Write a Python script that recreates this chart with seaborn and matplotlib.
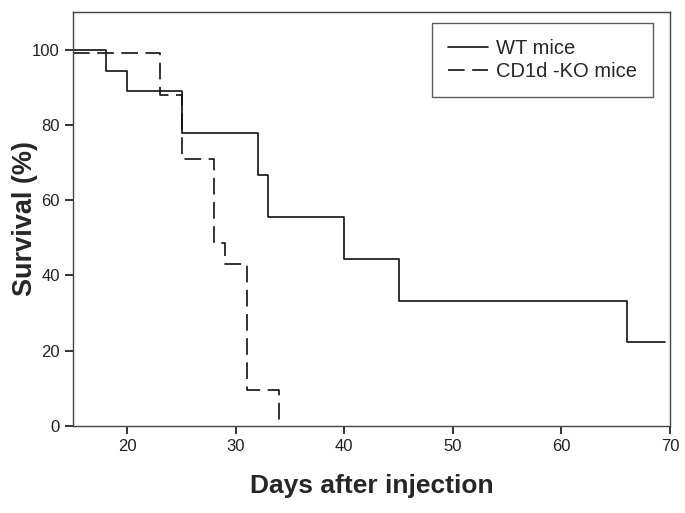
import pandas as pd
import matplotlib
matplotlib.use('Agg')
import matplotlib.pyplot as plt
import seaborn as sns

# Kaplan-Meier step points (day, survival %)
wt_days = [15, 18, 20, 25, 32, 33, 40, 45, 66, 69.5]
wt_surv = [100, 94.4, 88.9, 77.8, 66.7, 55.6, 44.4, 33.3, 22.2, 22.2]
ko_days = [15, 23, 25, 28, 29, 31, 34]
ko_surv = [99, 88, 71, 48.5, 43, 9.5, 0]
groups = ['WT mice', 'CD1d -KO mice']
x_ticks = [20, 30, 40, 50, 60, 70]
y_ticks = [0, 20, 40, 60, 80, 100]


def main():
    df = pd.concat([
        pd.DataFrame({'day': wt_days, 'surv': wt_surv, 'group': groups[0]}),
        pd.DataFrame({'day': ko_days, 'surv': ko_surv, 'group': groups[1]}),
    ])

    sns.set_style('ticks')
    plt.rcParams['font.family'] = ['Liberation Sans', 'DejaVu Sans']

    fig = plt.figure(figsize=(6.85, 5.13), dpi=100)
    ax = fig.add_axes([0.1066, 0.1696, 0.8714, 0.807])

    sns.lineplot(data=df, x='day', y='surv', style='group', style_order=groups,
                 dashes={groups[0]: '', groups[1]: (10, 4.5)},
                 color='#111111', linewidth=1.2, drawstyle='steps-post',
                 estimator=None, sort=False, ax=ax)

    ax.set_xlim(15, 70)
    ax.set_ylim(0, 110)
    ax.set_xticks(x_ticks)
    ax.set_yticks(y_ticks)
    ax.tick_params(axis='both', which='major', direction='out', length=6, width=1.4,
                   color='#333333', labelcolor='#222222', labelsize=12,
                   bottom=True, left=True, top=False, right=False)
    for s in ax.spines.values():
        s.set_color('#444444')
        s.set_linewidth(1.0)
    ax.set_xlabel('Days after injection', fontsize=19, fontweight='bold', labelpad=14)
    ax.set_ylabel('Survival (%)', fontsize=19.5, fontweight='bold')
    ax.yaxis.set_label_coords(-0.058, 0.5)

    leg = ax.legend(loc='upper right', bbox_to_anchor=(0.972, 0.973), fontsize=14.5,
                    frameon=True, fancybox=False, edgecolor='#333333',
                    handlelength=2.0, handletextpad=0.4, borderpad=0.8,
                    labelspacing=0.2, borderaxespad=0)
    leg.get_frame().set_linewidth(1.0)

    fig.savefig('out.png', dpi=100)


if __name__ == "__main__":
    main()
